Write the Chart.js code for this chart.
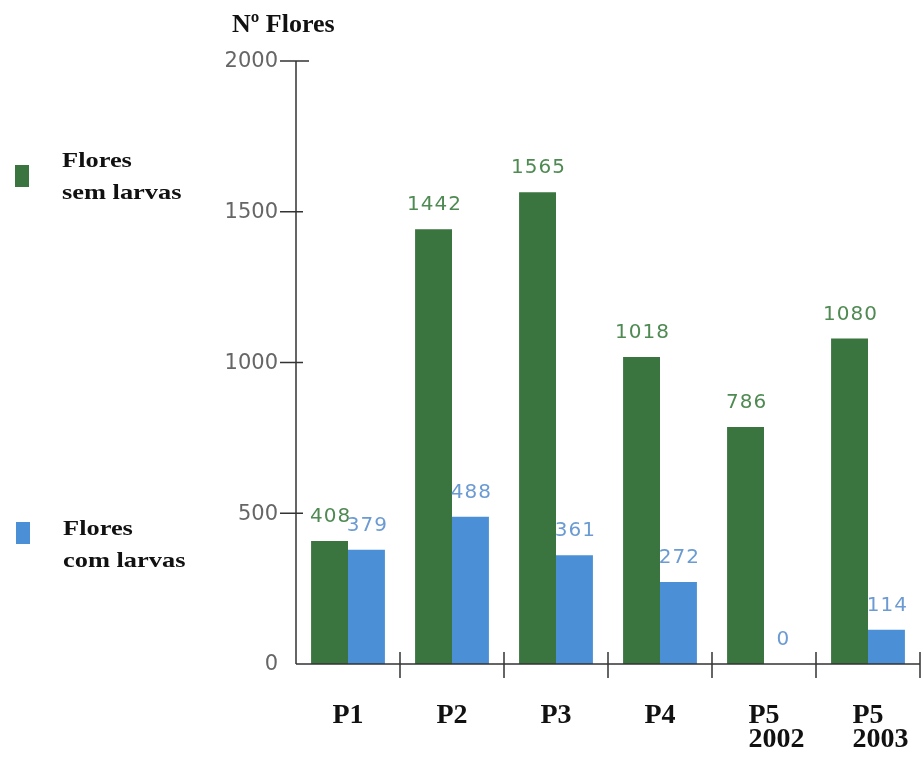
<!DOCTYPE html>
<html>
<head>
<meta charset="utf-8">
<script src="https://cdn.jsdelivr.net/npm/chart.js@4"></script>
<style>
  html, body { margin: 0; padding: 0; background: #fff; }
  #wrap { position: relative; width: 924px; height: 758px; }
  #c { position: absolute; left: 0; top: 0; }
  .serif { position: absolute; font-family: "Liberation Serif", "Times New Roman", serif; font-weight: bold; color: #111; white-space: nowrap; }
  .leg { font-size: 22px; line-height: 32px; transform: scaleX(1.2); transform-origin: left top; }
  .sw { position: absolute; width: 14px; height: 22px; }
</style>
</head>
<body>
<div id="wrap">
  <canvas id="c" width="924" height="758"></canvas>
  <div class="serif" style="left:232px; top:11px; font-size:26px; line-height:26px;">Nº Flores</div>
  <div class="sw" style="left:15px; top:165px; background:#3a743f;"></div>
  <div class="serif leg" style="left:62px; top:144px;">Flores<br>sem larvas</div>
  <div class="sw" style="left:16px; top:522px; background:#4b8fd6;"></div>
  <div class="serif leg" style="left:63px; top:512px;">Flores<br>com larvas</div>
</div>
<script>
// data
const categories = [["P1"], ["P2"], ["P3"], ["P4"], ["P5", "2002"], ["P5", "2003"]];
const semLarvas = [408, 1442, 1565, 1018, 786, 1080];
const comLarvas = [379, 488, 361, 272, 0, 114];
const yTicks = [0, 500, 1000, 1500, 2000];

const GREEN = "#3a743f";
const BLUE = "#4b8fd6";
const GREEN_TXT = "#4f8a52";
const BLUE_TXT = "#6b9bd2";
const AXIS = "#333";

// axes, ticks and labels are drawn by hand to mimic the scanned figure
const axesPlugin = {
  id: "handAxes",
  afterDatasetsDraw(chart) {
    const { ctx, chartArea: a, scales: { x, y } } = chart;
    ctx.save();
    ctx.strokeStyle = AXIS;
    ctx.lineWidth = 1.5;

    // y axis + ticks
    ctx.beginPath();
    ctx.moveTo(a.left, y.getPixelForValue(2000));
    ctx.lineTo(a.left, a.bottom);
    yTicks.forEach(v => {
      if (v === 0) return;
      const py = y.getPixelForValue(v);
      ctx.moveTo(a.left - 16, py);
      ctx.lineTo(a.left + (v === 2000 ? 13 : 7), py);
    });
    // x axis + boundary ticks
    ctx.moveTo(a.left, a.bottom);
    ctx.lineTo(a.right, a.bottom);
    const n = categories.length;
    for (let i = 1; i <= n; i++) {
      const bx = i < n ? (x.getPixelForValue(i - 1) + x.getPixelForValue(i)) / 2 : a.right;
      ctx.moveTo(bx, a.bottom - 12);
      ctx.lineTo(bx, a.bottom + 14);
    }
    ctx.stroke();

    // y tick labels
    ctx.fillStyle = "#666";
    ctx.font = '21px "DejaVu Sans", sans-serif';
    ctx.textAlign = "right";
    ctx.textBaseline = "middle";
    yTicks.forEach(v => ctx.fillText(String(v), a.left - 18, y.getPixelForValue(v) + 1));

    // category labels
    ctx.fillStyle = "#111";
    ctx.font = 'bold 28px "Liberation Serif", "Times New Roman", serif';
    ctx.textAlign = "left";
    ctx.textBaseline = "alphabetic";
    categories.forEach((lines, i) => {
      const cx = x.getPixelForValue(i);
      const w0 = ctx.measureText(lines[0]).width;
      const lx = cx - w0 / 2;
      lines.forEach((t, k) => ctx.fillText(t, lx, a.bottom + 59 + k * 24));
    });

    // value labels above bars
    ctx.font = '20px "DejaVu Sans", sans-serif';
    ctx.letterSpacing = "1px";
    ctx.textAlign = "center";
    ctx.textBaseline = "bottom";
    chart.data.datasets.forEach((ds, di) => {
      ctx.fillStyle = di === 0 ? GREEN_TXT : BLUE_TXT;
      chart.getDatasetMeta(di).data.forEach((el, i) => {
        ctx.fillText(String(ds.data[i]), el.x + 1, el.y - 14);
      });
    });
    ctx.restore();
  }
};

new Chart(document.getElementById("c"), {
  type: "bar",
  data: {
    labels: categories.map(l => l.join(" ")),
    datasets: [
      { label: "Flores sem larvas", data: semLarvas, backgroundColor: GREEN },
      { label: "Flores com larvas", data: comLarvas, backgroundColor: BLUE },
    ],
  },
  options: {
    responsive: false,
    animation: false,
    events: [],
    layout: { padding: { left: 296, right: 4, top: 61, bottom: 94 } },
    datasets: { bar: { categoryPercentage: 0.71, barPercentage: 1.0 } },
    plugins: { legend: { display: false }, tooltip: { enabled: false } },
    scales: {
      x: { display: false },
      y: { display: false, min: 0, max: 2000 },
    },
  },
  plugins: [axesPlugin],
});
</script>
</body>
</html>
